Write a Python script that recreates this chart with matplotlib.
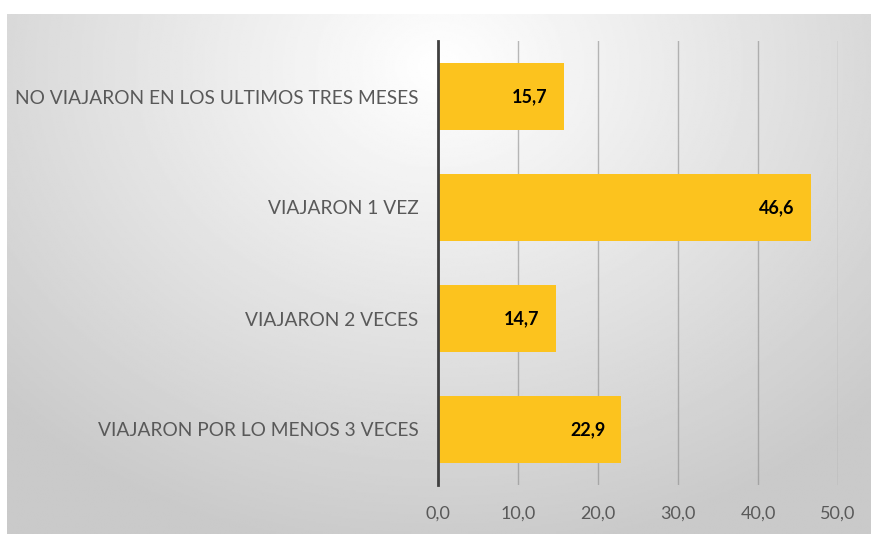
import numpy as np
import matplotlib.pyplot as plt

categorias = ["VIAJARON POR LO MENOS 3 VECES", "VIAJARON 2 VECES",
              "VIAJARON 1 VEZ", "NO VIAJARON EN LOS ULTIMOS TRES MESES"]
valores = [22.9, 14.7, 46.6, 15.7]
ticks_x = [0, 10, 20, 30, 40, 50]

plt.rcParams['font.family'] = ['Lato', 'DejaVu Sans']

fig = plt.figure(figsize=(8.71, 5.34), dpi=100)

# fondo con degradado radial
bg = fig.add_axes([7 / 871, 0, 864 / 871, 1 - 14 / 534])
yy, xx = np.mgrid[0:1:300j, 0:1:500j]
d = np.sqrt(((xx - 0.5) / 0.7) ** 2 + ((yy - 0.1) / 0.95) ** 2)
gris = np.clip(1.0 - 0.21 * d, 0.79, 1.0)
bg.imshow(gris, cmap='gray', vmin=0, vmax=1, aspect='auto', extent=[0, 1, 0, 1], origin='upper')
bg.axis('off')

ax = fig.add_axes([438 / 871, 1 - 485 / 534, 400 / 871, (485 - 41) / 534])
ax.patch.set_alpha(0)
y = np.arange(len(categorias))
ax.barh(y, valores, height=0.6, color='#FCC31E', zorder=3)
for yi, v in zip(y, valores):
    ax.text(v - 2.0, yi, f"{v:.1f}".replace('.', ','), ha='right', va='center',
            fontsize=13, fontweight='bold', color='black', zorder=4)

ax.set_xlim(0, 50)
ax.set_ylim(-0.5, len(categorias) - 0.5)
ax.set_xticks(ticks_x)
ax.set_xticklabels([f"{t:.1f}".replace('.', ',') for t in ticks_x], fontsize=13, color='#595959')
ax.set_yticks(y)
ax.set_yticklabels(categorias, fontsize=13.8, color='#595959')
ax.tick_params(axis='x', length=0, pad=15)
ax.tick_params(axis='y', length=0, pad=14)
ax.grid(axis='x', color='#8c8c8c', linewidth=1.0, alpha=0.6, zorder=1)
for s in ['top', 'right', 'bottom']:
    ax.spines[s].set_visible(False)
ax.spines['left'].set_color('#404040')
ax.spines['left'].set_linewidth(2)
ax.spines['left'].set_zorder(5)

fig.savefig('out.png', dpi=100)
